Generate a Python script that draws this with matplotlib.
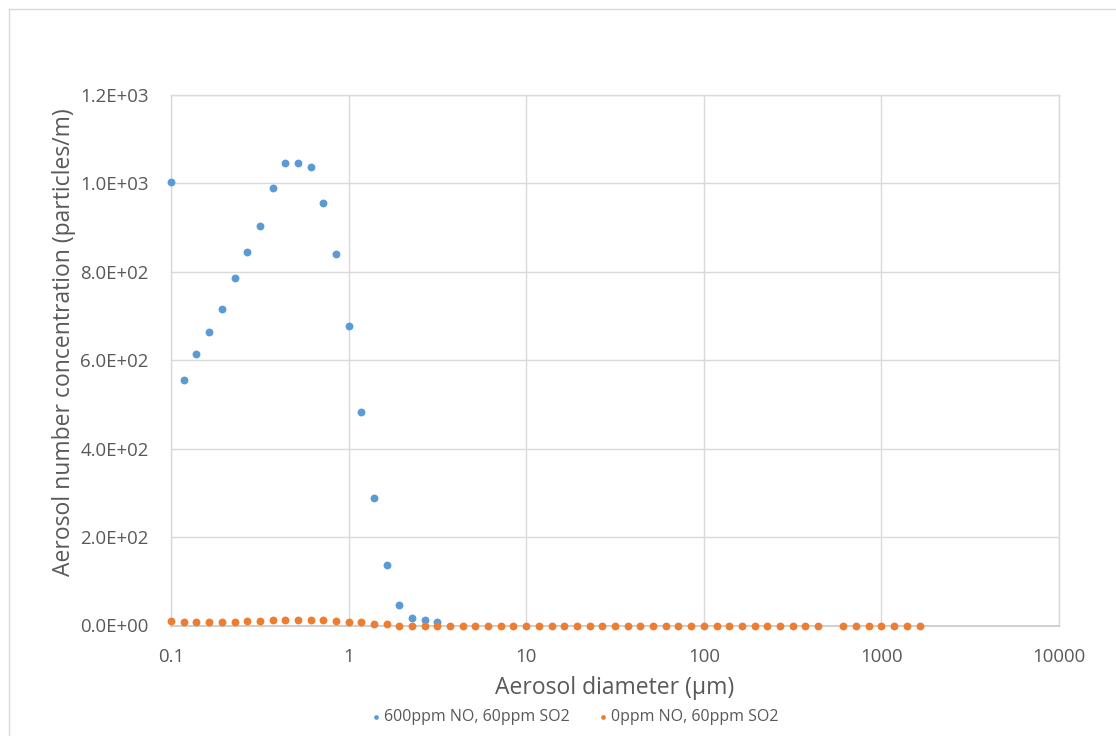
import matplotlib
matplotlib.use("Agg")
import matplotlib.pyplot as plt
from matplotlib.lines import Line2D
import numpy as np

# Particle diameters (µm) of the measurement bins
diameters = [
    0.1, 0.118, 0.139, 0.164, 0.193, 0.228, 0.268, 0.316, 0.373, 0.439,
    0.518, 0.611, 0.72, 0.848, 1.0, 1.18, 1.39, 1.64, 1.93, 2.28,
    2.68, 3.16, 3.73, 4.39, 5.18, 6.11, 7.2, 8.48, 10, 11.8,
    13.9, 16.4, 19.3, 22.8, 26.8, 31.6, 37.3, 43.9, 51.8, 61.1,
    72, 84.8, 100, 118, 139, 164, 193, 228, 268, 316,
    373, 439, 518, 611, 720, 848, 1000, 1180, 1390, 1640,
]

# 600 ppm NO, 60 ppm SO2 (first 22 bins)
conc_no600 = [
    1003, 556, 615, 665, 717, 786, 844, 904, 990, 1047,
    1047, 1037, 956, 840, 677, 482, 288, 136, 47, 16,
    13, 7,
]

# 0 ppm NO, 60 ppm SO2 (bin at 518 µm missing)
conc_no0 = [
    10, 7, 7, 9, 9, 9, 10, 10, 12, 12,
    12, 12, 12, 10, 9, 7, 4, 3, 0, 0,
    0, 0, 0, 0, 0, 0, 0, 0, 0, 0,
    0, 0, 0, 0, 0, 0, 0, 0, 0, 0,
    0, 0, 0, 0, 0, 0, 0, 0, 0, 0,
    0, 0, np.nan, 0, 0, 0, 0, 0, 0, 0,
]

series_labels = ["600ppm NO, 60ppm SO2", "0ppm NO, 60ppm SO2"]
x_ticks = [0.1, 1, 10, 100, 1000, 10000]
x_tick_labels = ["0.1", "1", "10", "100", "1000", "10000"]
y_ticks = [0, 200, 400, 600, 800, 1000, 1200]
y_tick_labels = ["0.0E+00", "2.0E+02", "4.0E+02", "6.0E+02",
                 "8.0E+02", "1.0E+03", "1.2E+03"]

BLUE = "#5B9BD5"
ORANGE = "#ED7D31"
GRID = "#D9D9D9"
TEXT = "#595959"
FONT = "Open Sans"

W, H = 1116, 736
fig = plt.figure(figsize=(W / 100, H / 100), dpi=100)
fig.patch.set_facecolor("white")

# chart-area border
fig.add_artist(Line2D([9 / W, 9 / W], [0, 1 - 9 / H], transform=fig.transFigure,
                      color=GRID, lw=1.0))
fig.add_artist(Line2D([9 / W, 1], [1 - 9 / H, 1 - 9 / H], transform=fig.transFigure,
                      color=GRID, lw=1.0))

x0, x1 = 171, 1059
y0, y1 = 95, 625.5
ax = fig.add_axes([x0 / W, 1 - y1 / H, (x1 - x0) / W, (y1 - y0) / H])

ax.scatter(diameters[:len(conc_no600)], conc_no600, s=32, color=BLUE,
           linewidths=0, zorder=3, label=series_labels[0], clip_on=False)
ax.scatter(diameters, conc_no0, s=32, color=ORANGE,
           linewidths=0, zorder=4, label=series_labels[1], clip_on=False)

ax.set_xscale("log")
ax.set_xlim(0.1, 10000)
ax.set_ylim(0, 1200)
ax.set_xticks(x_ticks)
ax.set_xticklabels(x_tick_labels)
ax.xaxis.set_minor_locator(matplotlib.ticker.NullLocator())
ax.set_yticks(y_ticks)
ax.set_yticklabels(y_tick_labels)

ax.grid(True, color=GRID, lw=1.0, zorder=0)
ax.set_axisbelow(True)
for side in ["top", "right", "left"]:
    ax.spines[side].set_color(GRID)
    ax.spines[side].set_linewidth(1.0)
ax.spines["bottom"].set_color("#C8C8C8")
ax.spines["bottom"].set_linewidth(1.2)

ax.tick_params(axis="both", length=0, labelsize=13.4, labelcolor=TEXT)
ax.tick_params(axis="y", pad=16)
ax.tick_params(axis="x", pad=16)
for lab in ax.get_xticklabels() + ax.get_yticklabels():
    lab.set_fontfamily(FONT)

fig.text(615 / W, 1 - 688 / H, "Aerosol diameter (µm)", ha="center", va="center",
         fontsize=16.5, color=TEXT, family=FONT)
fig.text(64 / W, 1 - 342 / H, "Aerosol number concentration (particles/m)",
         ha="center", va="center", rotation=90, fontsize=16.5, color=TEXT, family=FONT)

leg = fig.legend(loc="center", bbox_to_anchor=(573 / W, 1 - 717 / H), ncol=2,
                 frameon=False, markerscale=0.6, handletextpad=0.0,
                 columnspacing=1.6, handlelength=1.0,
                 prop={"family": FONT, "size": 11.5})
for t in leg.get_texts():
    t.set_color(TEXT)

fig.savefig("out.png", dpi=100, facecolor="white")
